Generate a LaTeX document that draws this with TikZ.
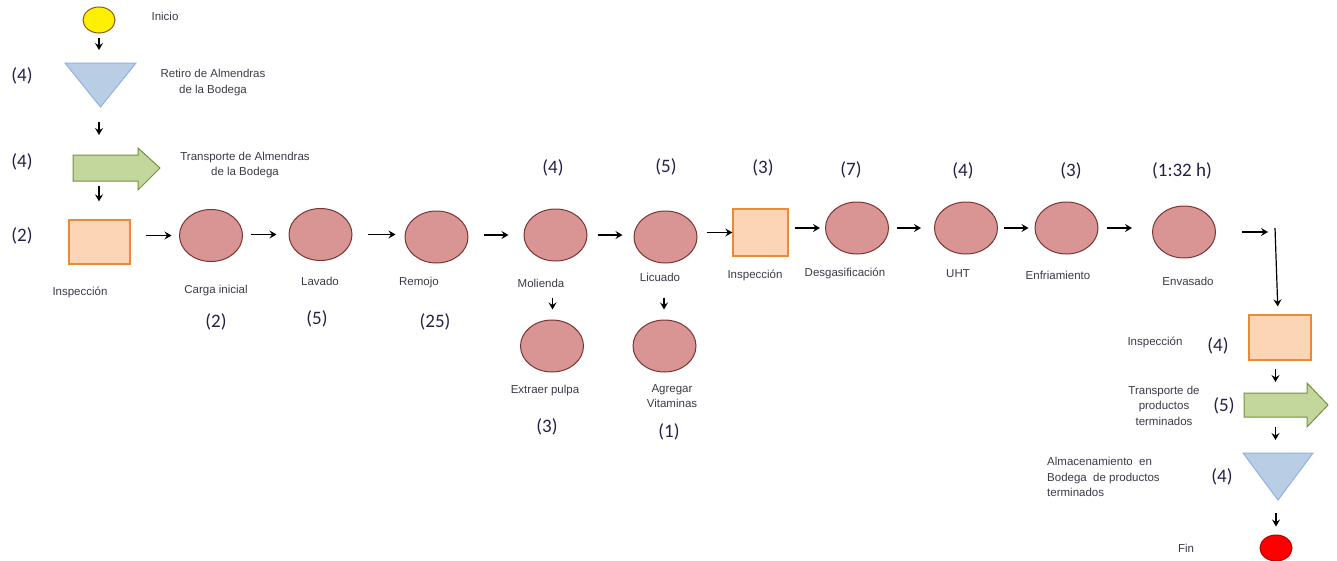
\documentclass[tikz,border=0pt]{standalone}
\usepackage{fontspec}
\setmainfont{Liberation Sans}
\newfontfamily\numfont{Carlito}
\usetikzlibrary{arrows.meta,shapes.geometric}

\definecolor{opfill}{HTML}{D99594}
\definecolor{opline}{HTML}{7A3533}
\definecolor{inspfill}{HTML}{FBD5B5}
\definecolor{inspline}{HTML}{EB8A35}
\definecolor{storefill}{HTML}{B9CDE5}
\definecolor{storeline}{HTML}{8DB3E2}
\definecolor{movefill}{HTML}{C3D69B}
\definecolor{moveline}{HTML}{76923C}
\definecolor{startfill}{HTML}{FFF000}
\definecolor{startline}{HTML}{8A5A10}
\definecolor{endfill}{HTML}{FF0000}
\definecolor{endline}{HTML}{B00000}
\definecolor{lblcol}{HTML}{3A3A48}
\definecolor{numcol}{HTML}{262048}

\begin{document}
\begin{tikzpicture}[x=1pt,y=-1pt,
  op/.style={ellipse, draw=opline, fill=opfill, line width=1pt,
    minimum width=63pt, minimum height=52pt, inner sep=0pt},
  insp/.style={rectangle, draw=inspline, fill=inspfill, line width=1.3pt, inner sep=0pt},
  term/.style={ellipse, line width=1pt, minimum width=32pt, minimum height=26pt, inner sep=0pt},
  frame/.style={inner sep=0pt, outer sep=0pt},
  store/.style={draw=storeline, fill=storefill, line width=1pt, line join=miter},
  move/.style={draw=moveline, fill=movefill, line width=1pt, line join=miter},
  lbl/.style={font=\fontsize{11.5}{15.5}\selectfont, text=lblcol, align=center, inner sep=0pt},
  num/.style={font=\numfont\fontsize{19}{20}\selectfont, text=numcol, inner sep=0pt},
  arr/.style={-{Stealth[length=7pt,width=8pt,inset=2.5pt]}, line width=1.2pt, black}
]
\useasboundingbox (0,0) rectangle (1337,560);

% ---------- left column: start, withdrawal, transport, first inspection
\node[term, draw=startline, fill=startfill] (ini) at (99,20) {};
\node[lbl] (lini) at (165,16) {Inicio};

\node[frame, minimum width=71pt, minimum height=44pt] (ret) at (100.5,85) {};
\draw[store] (ret.north west) -- (ret.north east) -- (ret.south) -- cycle;
\node[num] (nret) at (22,76) {(4)};
\node[lbl] (lret) at (213,82.5) {Retiro de Almendras\\de la Bodega};

\node[frame, minimum width=65pt, minimum height=26pt] (tr1) at (105.5,168) {};
\draw[move] (tr1.north west) -- (tr1.north east) -- ++(0,-7)
  -- ([xshift=22pt]tr1.east) -- ([yshift=-9pt]tr1.south east)
  -- (tr1.south east) -- (tr1.south west) -- cycle;
\node[num] (ntr1) at (22,162) {(4)};
\node[lbl] (ltr1) at (245,165) {Transporte de Almendras\\de la Bodega};

\node[insp, minimum width=61pt, minimum height=44pt] (insp1) at (99.5,242) {};
\node[num] (ninsp1) at (22,236) {(2)};
\node[lbl] (linsp1) at (80,292) {Inspección};

% ---------- main process row
\node[op] (carga) at (211,235.5) {};
\node[lbl] (lcarga) at (216,291) {Carga inicial};
\node[num] (ncarga) at (216,322) {(2)};

\node[op] (lavado) at (320.5,234.5) {};
\node[lbl] (llavado) at (320,281) {Lavado};
\node[num] (nlavado) at (317,319) {(5)};

\node[op] (remojo) at (436.5,237) {};
\node[lbl] (lremojo) at (419,283) {Remojo};
\node[num] (nremojo) at (435,322) {(25)};

\node[op] (molienda) at (555.5,235) {};
\node[num] (nmolienda) at (553,168) {(4)};
\node[lbl] (lmolienda) at (541,283) {Molienda};

\node[op] (extraer) at (552,346) {};
\node[lbl] (lextraer) at (545,391) {Extraer pulpa};
\node[num] (nextraer) at (547,427) {(3)};

\node[op] (licuado) at (665.5,237) {};
\node[num] (nlicuado) at (666,167) {(5)};
\node[lbl] (llicuado) at (660,277) {Licuado};

\node[op] (agregar) at (664.5,346) {};
\node[lbl] (lagregar) at (672,396) {Agregar\\Vitaminas};
\node[num] (nagregar) at (669,432) {(1)};

\node[insp, minimum width=55pt, minimum height=47pt] (insp2) at (760.5,232.5) {};
\node[num] (ninsp2) at (763,168) {(3)};
\node[lbl] (linsp2) at (755,275) {Inspección};

\node[op] (desg) at (857,228) {};
\node[num] (ndesg) at (851,170) {(7)};
\node[lbl] (ldesg) at (845,273) {Desgasificación};

\node[op] (uht) at (966,228) {};
\node[num] (nuht) at (963,171) {(4)};
\node[lbl] (luht) at (958,274) {UHT};

\node[op] (enf) at (1066.5,228) {};
\node[num] (nenf) at (1071,171) {(3)};
\node[lbl] (lenf) at (1058,275) {Enfriamiento};

\node[op] (env) at (1184,232) {};
\node[num] (nenv) at (1182,171) {(1:32 h)};
\node[lbl] (lenv) at (1188,281) {Envasado};

\coordinate (turn) at (1275,232);

% ---------- right column: final inspection, transport, storage, end
\node[insp, minimum width=62pt, minimum height=45pt] (insp3) at (1280,337.5) {};
\node[lbl] (linsp3) at (1155,342) {Inspección};
\node[num] (ninsp3) at (1218,346) {(4)};

\node[frame, minimum width=63pt, minimum height=24pt] (tr2) at (1275.5,405) {};
\draw[move] (tr2.north west) -- (tr2.north east) -- ++(0,-10)
  -- ([xshift=21pt]tr2.east) -- ([yshift=-10pt]tr2.south east)
  -- (tr2.south east) -- (tr2.south west) -- cycle;
\node[num] (ntr2) at (1224,406) {(5)};
\node[lbl] (ltr2) at (1164,405.5) {Transporte de\\productos\\terminados};

\node[frame, minimum width=70pt, minimum height=47pt] (sto2) at (1278,476.5) {};
\draw[store] (sto2.north west) -- (sto2.north east) -- (sto2.south) -- cycle;
\node[num] (nsto2) at (1222,477) {(4)};
\node[lbl, align=left, anchor=west] (lsto2) at (1047,477)
  {Almacenamiento\ \ en\\Bodega\ \ de productos\\terminados};

\node[term, draw=endline, fill=endfill] (fin) at (1276,548) {};
\node[lbl] (lfin) at (1186,548) {Fin};

% ---------- connectors
\draw[arr, shorten <=4pt, shorten >=13pt] (ini.south) -- (ini.south |- ret.north);
\draw[arr, shorten <=15pt, shorten >=20pt] (ret.south -| ini.south) -- (ini.south |- tr1.north);
\draw[arr, shorten <=5pt, shorten >=18pt] (ini.south |- tr1.south) -- (ini.south |- insp1.north);

\draw[arr, shorten <=15pt, shorten >=7.5pt] (insp1.east |- carga.west) -- (carga.west);
\draw[arr, shorten <=7.5pt, shorten >=12pt] (carga.east |- lavado.west) -- (lavado.west);
\draw[arr, shorten <=15pt, shorten >=9pt] (lavado.east) -- (lavado.east -| remojo.west);
\draw[arr, shorten <=15pt, shorten >=15pt] (remojo.east |- molienda.west) -- (molienda.west);
\draw[arr, shorten <=10pt, shorten >=11pt] (molienda.east) -- (molienda.east -| licuado.west);
\draw[arr, shorten <=9pt, shorten >=0pt] (licuado.east |- insp2.west) -- (insp2.west);
\draw[arr, shorten <=6pt, shorten >=5pt] (insp2.east |- desg.west) -- (desg.west);
\draw[arr, shorten <=8pt, shorten >=13pt] (desg.east) -- (desg.east -| uht.west);
\draw[arr, shorten <=6pt, shorten >=6pt] (uht.east |- enf.west) -- (enf.west);
\draw[arr, shorten <=8pt, shorten >=20pt] (enf.east) -- (enf.east -| env.west);
\draw[arr, shorten <=26pt, shorten >=7pt] (env.east) -- (turn);
\draw[arr, shorten >=8pt] ([yshift=4pt]turn) -- ([xshift=-2pt]insp3.north);

\draw[arr, shorten <=36pt, shorten >=10pt] ([xshift=-3pt]molienda.south) -- ([xshift=-3pt]molienda.south |- extraer.north);
\draw[arr, shorten <=34pt, shorten >=10pt] ([xshift=-1.5pt]licuado.south) -- ([xshift=-1.5pt]licuado.south |- agregar.north);

\draw[arr, shorten <=8pt, shorten >=11pt] (insp3.south -| tr2.north) -- (tr2.north);
\draw[arr, shorten <=10pt, shorten >=13pt] (tr2.south) -- (tr2.south |- sto2.north);
\draw[arr, shorten <=13pt, shorten >=8pt] (sto2.south -| fin.north) -- (fin.north);
\end{tikzpicture}
\end{document}
